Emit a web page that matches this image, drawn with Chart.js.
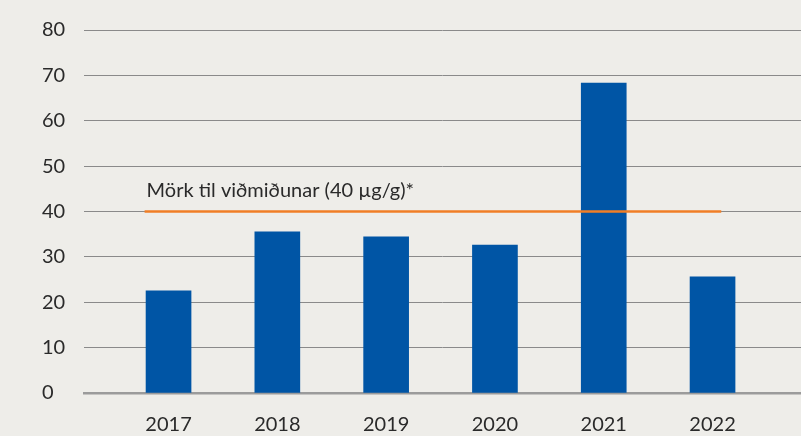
<!DOCTYPE html>
<html>
<head>
<meta charset="utf-8">
<script src="https://cdn.jsdelivr.net/npm/chart.js@4/dist/chart.umd.min.js"></script>
<style>
  html, body { margin: 0; padding: 0; background: #eeede9; }
  #wrap { width: 801px; height: 436px; }
</style>
</head>
<body>
<div id="wrap"><canvas id="chart"></canvas></div>
<script>
// --< Data >--
const years = [2017, 2018, 2019, 2020, 2021, 2022];
const values = [22.5, 35.5, 34.4, 32.6, 68.3, 25.6];
const yTicks = [0, 10, 20, 30, 40, 50, 60, 70, 80];
const limitValue = 40;
const limitFrom = 2016.78;
const limitTo = 2022.08;
const limitLabel = "Mörk til viðmiðunar (40 µg/g)*";
// --</ Data >--

const textColor = "#2a2a2a";
const fontFamily = "Lato, 'Noto Sans', sans-serif";

// writes the label above the start of the limit line
const limitLabelPlugin = {
  id: "limitLabel",
  afterDatasetsDraw(chart) {
    const { ctx, scales } = chart;
    const x = scales.x.getPixelForValue(limitFrom);
    const y = scales.y.getPixelForValue(limitValue);
    ctx.save();
    ctx.font = `20px ${fontFamily}`;
    ctx.fillStyle = textColor;
    ctx.textAlign = "left";
    ctx.textBaseline = "alphabetic";
    ctx.fillText(limitLabel, x + 2, y - 15);
    ctx.restore();
  }
};

new Chart(document.getElementById("chart"), {
  data: {
    datasets: [
      {
        type: "line",
        order: 0,
        data: [{ x: limitFrom, y: limitValue }, { x: limitTo, y: limitValue }],
        borderColor: "#f07e26",
        borderWidth: 2.5,
        pointRadius: 0
      },
      {
        type: "bar",
        order: 1,
        data: years.map((y, i) => ({ x: y, y: values[i] })),
        backgroundColor: "#0055a5",
        barThickness: 45
      }
    ]
  },
  options: {
    responsive: true,
    maintainAspectRatio: false,
    animation: false,
    layout: { padding: { left: 42, top: 30, right: 0, bottom: 0 } },
    plugins: {
      legend: { display: false },
      tooltip: { enabled: false }
    },
    scales: {
      x: {
        type: "linear",
        offset: false,
        min: 2016.223,
        max: 2022.813,
        afterBuildTicks: (scale) => { scale.ticks = years.map(v => ({ value: v })); },
        afterFit: (scale) => { scale.height = 43; },
        grid: { display: false, drawTicks: false, offset: false },
        border: { display: true, color: "#9b9b9b", width: 2.5 },
        ticks: {
          color: textColor,
          font: { family: fontFamily, size: 20 },
          padding: 20,
          maxRotation: 0,
          callback: (v) => String(v)
        }
      },
      y: {
        min: 0,
        max: 80,
        afterBuildTicks: (scale) => { scale.ticks = yTicks.map(v => ({ value: v })); },
        afterFit: (scale) => { scale.width = 42; },
        grid: {
          drawTicks: false,
          color: (c) => (c.tick && c.tick.value === 0 ? "rgba(0,0,0,0)" : "#8a8a8a"),
          lineWidth: 1
        },
        border: { display: false },
        ticks: {
          color: textColor,
          font: { family: fontFamily, size: 20 },
          crossAlign: "far",
          padding: 10
        }
      }
    }
  },
  plugins: [limitLabelPlugin]
});
</script>
</body>
</html>
